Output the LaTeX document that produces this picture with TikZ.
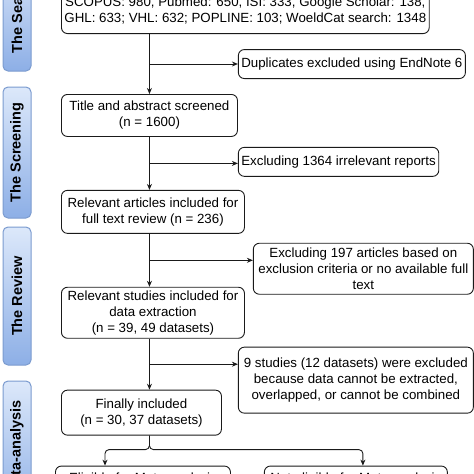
\documentclass[tikz,border=0pt]{standalone}
\usepackage{fontspec}
\setmainfont{Liberation Sans}
\usetikzlibrary{arrows.meta,positioning,calc}
\definecolor{ink}{HTML}{1A1A1A}
\definecolor{stgtop}{HTML}{DCE8FA}
\definecolor{stgbot}{HTML}{8DAFE6}
\definecolor{stgline}{HTML}{7B9BCF}
\tikzset{
  box/.style={rectangle, rounded corners=6pt, draw=ink, fill=white, line width=0.9pt,
              align=center, inner sep=3pt, font=\fontsize{13.3}{16}\selectfont},
  stage/.style={rectangle, rounded corners=5pt, draw=stgline, top color=stgtop, bottom color=stgbot,
                line width=1pt, minimum width=28pt, inner sep=0pt, font=\fontsize{14.5}{16}\selectfont\bfseries},
  fl/.style={-{Stealth[length=6pt,width=5pt]}, line width=0.9pt, draw=ink},
}

\begin{document}
\begin{tikzpicture}[x=1pt,y=-1pt]
  \useasboundingbox (0,0) rectangle (474,474);
  \clip (0,0) rectangle (474,474);
  % stages
  \node[stage, minimum height=114pt] (sg1) at (17,14) {\rotatebox{90}{The Search}};
  \node[stage, minimum height=131pt] (sg2) at (17,152.5) {\rotatebox{90}{The Screening}};
  \node[stage, minimum height=138pt] (sg3) at (17,296) {\rotatebox{90}{The Review}};
  \node[stage, minimum height=134pt] (sg4) at (17,448) {\rotatebox{90}{Meta-analysis}};
  % main column
  \node[box, anchor=south west, minimum width=360pt, inner ysep=9pt] (srch) at (61,34)
    {SCOPUS: 980, Pubmed: 650, ISI: 333, Google Scholar: 138,\\GHL: 633; VHL: 632; POPLINE: 103; WoeldCat search: 1348};
  \node[box, minimum width=176pt, minimum height=42pt, below=60pt of srch.south west, anchor=north west] (ttl)
    {Title and abstract screened\\(n = 1600)};
  \node[box, minimum width=183pt, minimum height=43pt, below=53pt of ttl.south west, anchor=north west] (rart)
    {Relevant articles included for\\full text review (n = 236)};
  \node[box, minimum width=183pt, minimum height=51pt, below=53pt of rart.south west, anchor=north west] (rstd)
    {Relevant studies included for\\data extraction\\(n = 39, 49 datasets)};
  \node[box, minimum width=160pt, minimum height=45pt, below=51pt of rstd.south west, anchor=north west] (fin)
    {Finally included\\(n = 30, 37 datasets)};
  \node[box, minimum width=175pt, minimum height=26pt, below=30pt of fin.south west, anchor=north west, xshift=-6pt] (elig)
    {Eligible for Meta-analysis};
  \node[box, minimum width=183pt, minimum height=26pt, right=33pt of elig] (nelig)
    {Not eligible for Meta-analysis};
  % exclusions
  \node[box, minimum width=227pt, minimum height=29pt, above right=15pt and 0pt of ttl.north east, anchor=south west] (dup)
    {Duplicates excluded using EndNote 6};
  \node[box, minimum width=199pt, minimum height=29pt, below right=10pt and 0pt of ttl.south east, anchor=north west] (ex1)
    {Excluding 1364 irrelevant reports};
  \node[box, minimum width=220pt, minimum height=51pt, below right=9pt and 8pt of rart.south east, anchor=north west] (ex2)
    {Excluding 197 articles based on\\exclusion criteria or no available full\\text};
  \node[box, minimum width=235pt, minimum height=66pt, below right=8pt and -7pt of rstd.south east, anchor=north west] (ex3)
    {9 studies (12 datasets) were excluded\\because data cannot be extracted,\\overlapped, or cannot be combined};
  % flow
  \coordinate (j1) at ($(srch.south -| ttl.north)!0.5!(ttl.north)$);
  \coordinate (j2) at ($(ttl.south)!0.5!(ttl.south |- rart.north)$);
  \coordinate (j3) at ($(ttl.south |- rart.south)!0.5!(ttl.south |- rstd.north)$);
  \coordinate (j4) at ($(ttl.south |- rstd.south)!0.5!(ttl.south |- fin.north)$);
  \draw[fl] (srch.south -| ttl.north) -- (ttl.north);
  \draw[fl] (ttl.south) -- (ttl.south |- rart.north);
  \draw[fl] (ttl.south |- rart.south) -- (ttl.south |- rstd.north);
  \draw[fl] (ttl.south |- rstd.south) -- (ttl.south |- fin.north);
  \draw[fl] (j1) -- (j1 -| dup.west);
  \draw[fl] (j2) -- (j2 -| ex1.west);
  \draw[fl] (j3) -- (j3 -| ex2.west);
  \draw[fl] (j4) -- (j4 -| ex3.west);
  % split
  \coordinate (ein) at ($(elig.north west)+(50,0)$);
  \coordinate (nin) at ($(nelig.north west)+(99,0)$);
  \draw[fl, rounded corners=4pt] (ttl.south |- fin.south) |- ($(ein)+(0,-16)$) -- (ein);
  \draw[fl, rounded corners=4pt] (ttl.south |- fin.south) |- ($(nin)+(0,-16)$) -- (nin);
\end{tikzpicture}
\end{document}
